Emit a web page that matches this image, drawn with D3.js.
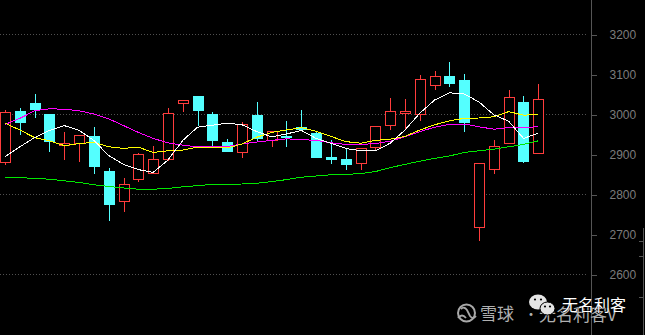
<!DOCTYPE html>
<html>
<head>
<meta charset="utf-8">
<script src="https://cdn.jsdelivr.net/npm/d3@7"></script>
<style>
  html, body { margin: 0; padding: 0; background: #000; }
  figure { margin: 0; }
  svg { display: block; }
</style>
</head>
<body>
<figure id="kline"></figure>
<script>
// trading days (no date labels are shown on the chart)
const days = d3.range(37).map(i => "D" + (i + 1));

const opens  = [2880, 3007, 3027, 3000, 2922, 2927, 2945, 2857, 2782, 2837, 2852, 2888, 3027, 3045, 3000, 2930, 2906, 2997, 2934, 2944,
                2967, 2952, 2893, 2887, 2877, 2917, 2972, 3002, 2999, 3072, 3095, 3085, 2717, 2862, 2927, 3030, 2902];
const highs  = [3010, 3015, 3051, 3000, 2955, 2947, 2967, 2866, 2840, 2903, 2920, 3016, 3035, 3045, 3005, 2937, 2980, 3030, 2957, 2982,
                3010, 2958, 2935, 2916, 2914, 2969, 3040, 3037, 3098, 3107, 3130, 3100, 2877, 2935, 3060, 3045, 3075];
const lows   = [2875, 2950, 2993, 2908, 2888, 2883, 2853, 2736, 2758, 2833, 2852, 2886, 3008, 2973, 2922, 2908, 2893, 2935, 2921, 2921,
                2963, 2893, 2877, 2862, 2862, 2910, 2962, 2963, 2986, 3062, 3071, 2958, 2685, 2853, 2927, 2881, 2902];
const closes = [3005, 2981, 3012, 2933, 2928, 2947, 2870, 2776, 2824, 2899, 2887, 3002, 3035, 3011, 2936, 2908, 2975, 2941, 2957, 2942,
                2963, 2893, 2887, 2876, 2914, 2969, 3008, 3008, 3087, 3095, 3078, 2981, 2877, 2919, 3042, 2883, 3037];

// moving averages
const ma5  = [2893, 2918, 2941, 2959, 2971, 2959, 2934, 2896, 2874, 2861, 2854, 2885, 2934, 2967, 2972, 2977, 2973, 2956, 2943, 2950,
              2959, 2939, 2927, 2914, 2908, 2908, 2927, 2960, 3002, 3035, 3053, 3050, 3030, 2998, 2982, 2939, 2952];
const ma10 = [2977, 2960, 2941, 2933, 2921, 2926, 2929, 2918, 2914, 2917, 2904, 2908, 2910, 2917, 2917, 2915, 2925, 2942, 2954, 2960,
              2966, 2957, 2944, 2931, 2927, 2934, 2937, 2944, 2960, 2973, 2983, 2989, 2990, 2993, 3006, 2997, 2999];
const ma20 = [2974, 2989, 3008, 3013, 3012, 3008, 3000, 2988, 2971, 2954, 2939, 2928, 2922, 2918, 2918, 2919, 2925, 2930, 2934, 2938,
              2936, 2934, 2928, 2924, 2924, 2926, 2932, 2943, 2956, 2967, 2974, 2975, 2968, 2962, 2966, 2965, 2969];
const ma60 = [2842, 2841, 2839, 2837, 2833, 2829, 2823, 2819, 2815, 2812, 2812, 2814, 2818, 2821, 2824, 2824, 2825, 2827, 2831, 2836,
              2842, 2845, 2848, 2849, 2851, 2856, 2866, 2874, 2882, 2889, 2895, 2904, 2908, 2912, 2918, 2924, 2933];

const yTicks = [2600, 2700, 2800, 2900, 3000, 3100, 3200];
const gridTicks = [2600, 2800, 3000, 3200];

const width = 645;
const height = 335;
const upColor = "#ff3c3c";
const downColor = "#54ffff";

const svg = d3.select("figure#kline").append("svg")
  .attr("width", width)
  .attr("height", height)
  .style("background", "#000");

const x = d3.scalePoint().domain(days).range([5, 538.3]);
const y = d3.scaleLinear().domain([2600, 3200]).range([274, 34]);

const px = v => Math.round(x(v));
const py = v => Math.round(y(v));

// dotted grid
svg.append("g")
  .selectAll("line")
  .data(gridTicks)
  .join("line")
  .attr("x1", 0)
  .attr("x2", 588)
  .attr("y1", d => py(d) + 0.5)
  .attr("y2", d => py(d) + 0.5)
  .attr("stroke", "#505050")
  .attr("stroke-dasharray", "1,2")
  .attr("shape-rendering", "crispEdges");

// candles
const candles = days.map((d, i) => ({
  day: d, open: opens[i], high: highs[i], low: lows[i], close: closes[i]
}));

const cg = svg.append("g").attr("shape-rendering", "crispEdges");

candles.forEach(c => {
  const cx = px(c.day);
  const up = c.close >= c.open;
  const col = up ? upColor : downColor;
  const top = py(Math.max(c.open, c.close));
  const bot = py(Math.min(c.open, c.close));

  // upper and lower wick
  cg.append("line")
    .attr("x1", cx + 0.5).attr("x2", cx + 0.5)
    .attr("y1", py(c.high)).attr("y2", top)
    .attr("stroke", col);
  cg.append("line")
    .attr("x1", cx + 0.5).attr("x2", cx + 0.5)
    .attr("y1", bot + 1).attr("y2", py(c.low) + 1)
    .attr("stroke", col);

  if (up) {
    cg.append("rect")
      .attr("x", cx - 5 + 0.5)
      .attr("y", top + 0.5)
      .attr("width", 10)
      .attr("height", Math.max(1, bot - top))
      .attr("fill", "#000")
      .attr("stroke", col);
  } else {
    cg.append("rect")
      .attr("x", cx - 5)
      .attr("y", top)
      .attr("width", 11)
      .attr("height", Math.max(1, bot - top + 1))
      .attr("fill", col);
  }
});

// moving average lines
const line = d3.line()
  .x((d, i) => x(days[i]))
  .y(d => y(d));

[[ma60, "#00e800"], [ma20, "#ff00ff"], [ma10, "#ffff00"], [ma5, "#ffffff"]].forEach(([s, col]) => {
  svg.append("path")
    .datum(s)
    .attr("fill", "none")
    .attr("stroke", col)
    .attr("stroke-width", 1)
    .attr("shape-rendering", "crispEdges")
    .attr("d", line);
});

// price axis on the right
svg.append("line")
  .attr("x1", 591.5).attr("x2", 591.5)
  .attr("y1", 0).attr("y2", height)
  .attr("stroke", "#555");

const axis = svg.append("g")
  .attr("transform", "translate(591.5,0.5)")
  .call(d3.axisRight(y).tickValues(yTicks).tickSize(5).tickSizeOuter(0).tickPadding(13).tickFormat(d3.format("d")));

axis.select(".domain").remove();
axis.selectAll(".tick line").attr("stroke", "#555").attr("shape-rendering", "crispEdges");
axis.selectAll(".tick text")
  .attr("fill", "#7c7c7c")
  .attr("font-family", "'Liberation Sans', Arial, sans-serif")
  .attr("font-size", "12px");

// right edge line
svg.append("line")
  .attr("x1", 643.5).attr("x2", 643.5)
  .attr("y1", 228).attr("y2", height)
  .attr("stroke", "#555");
svg.selectAll(".rtick")
  .data([241, 256, 297])
  .join("line")
  .attr("class", "rtick")
  .attr("x1", 639).attr("x2", 644)
  .attr("y1", d => d + 0.5).attr("y2", d => d + 0.5)
  .attr("stroke", "#555");

// watermarks
const wm = svg.append("g");
wm.append("circle")
  .attr("cx", 466.5).attr("cy", 313).attr("r", 8.5)
  .attr("fill", "none").attr("stroke", "#a8a8a8").attr("stroke-width", 2);
wm.append("path")
  .attr("d", "M461,309 Q464,306 467,310 L470,316 Q473,320 476,316 M458,318 Q462,313 466,318")
  .attr("fill", "none").attr("stroke", "#a8a8a8").attr("stroke-width", 1.8);
wm.append("text")
  .attr("x", 480).attr("y", 320)
  .attr("font-family", "'Noto Sans CJK SC', sans-serif")
  .attr("font-size", "17px")
  .attr("fill", "#b0b0b0")
  .text("雪球");
wm.append("text")
  .attr("x", 524).attr("y", 319)
  .attr("font-family", "'Noto Sans CJK SC', sans-serif")
  .attr("font-size", "14px")
  .attr("fill", "#b0b0b0")
  .text("·");
wm.append("text")
  .attr("x", 539).attr("y", 321)
  .attr("font-family", "'Noto Sans CJK SC', sans-serif")
  .attr("font-size", "17px")
  .attr("fill", "#b0b0b0")
  .text("无名利客V");

// wechat mark
wm.append("ellipse").attr("cx", 538).attr("cy", 302).attr("rx", 9).attr("ry", 7.5).attr("fill", "#e4e4e4");
wm.append("ellipse").attr("cx", 547.5).attr("cy", 308.5).attr("rx", 7.5).attr("ry", 6.5)
  .attr("fill", "#e4e4e4").attr("stroke", "#000").attr("stroke-width", 1);
[[535, 299.5], [541, 299.5], [545, 306.5], [550, 306.5]].forEach(([ex, ey]) => {
  wm.append("circle").attr("cx", ex).attr("cy", ey).attr("r", 1.1).attr("fill", "#000");
});
wm.append("text")
  .attr("x", 562).attr("y", 311)
  .attr("font-family", "'Noto Sans CJK SC', sans-serif")
  .attr("font-size", "16px")
  .attr("fill", "#ffffff")
  .attr("stroke", "#000")
  .attr("stroke-width", 0.6)
  .attr("paint-order", "stroke")
  .text("无名利客");
</script>
</body>
</html>
